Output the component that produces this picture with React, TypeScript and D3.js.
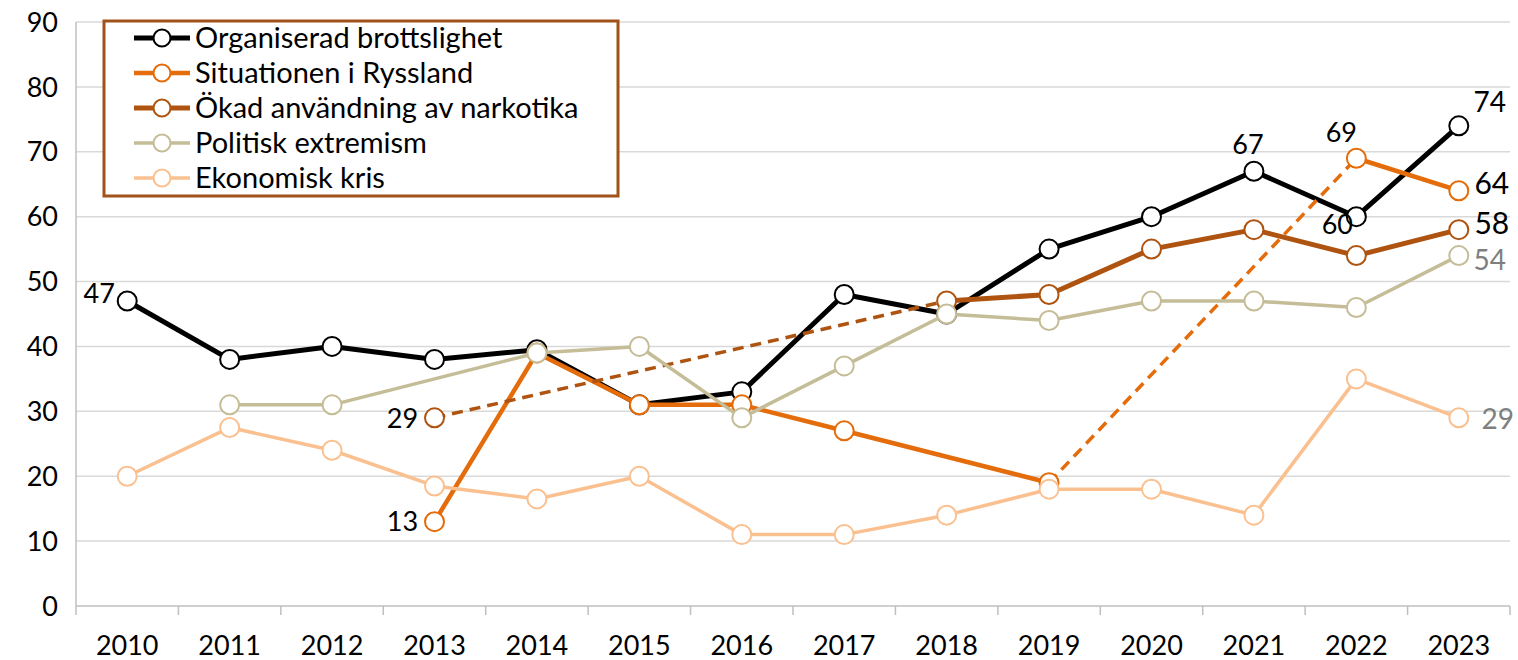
import React from "react";
import * as d3 from "d3";

const years = ["2010","2011","2012","2013","2014","2015","2016","2017","2018","2019","2020","2021","2022","2023"];
const yTicks = [0,10,20,30,40,50,60,70,80,90];

const organiserad = [47,38,40,38,39.5,31,33,48,45,55,60,67,60,74];
const ryssland = [null,null,null,13,39,31,31,27,null,19,null,null,69,64];
const narkotika = [null,null,null,29,null,null,null,null,47,48,55,58,54,58];
const extremism = [null,31,31,null,39,40,29,37,45,44,47,47,46,54];
const ekonomisk = [20,27.5,24,18.5,16.5,20,11,11,14,18,18,14,35,29];

const seriesNames = ["Organiserad brottslighet","Situationen i Ryssland","Ökad användning av narkotika","Politisk extremism","Ekonomisk kris"];
const seriesValues = [organiserad, ryssland, narkotika, extremism, ekonomisk];
// years from which the connecting segment is dashed
const dashedStarts: string[][] = [[], ["2019"], ["2013"], [], []];

const colors = ["#000000","#E46C0A","#AE5410","#C4BD97","#FAC090"];
const widths = [5,4.5,5,3.5,3.5];

// annotation: [seriesIndex, year, position, size, color]
const labels: [number,string,string,number,string][] = [
  [0,"2010","left47",27,"#000"],
  [1,"2013","left",27,"#000"],
  [2,"2013","left",27,"#000"],
  [0,"2021","above",27,"#000"],
  [1,"2022","aboveLeft",27,"#000"],
  [0,"2022","belowLeft",27,"#000"],
  [0,"2023","aboveRight",28,"#000"],
  [1,"2023","right64",30,"#000"],
  [2,"2023","right58",30,"#000"],
  [3,"2023","right54",28,"#7F7F7F"],
  [4,"2023","right29",28,"#7F7F7F"],
];

const W = 1518, H = 660;
const M = { left: 76, right: 8, top: 22, bottom: 54 };
const FONT = "Lato, 'Open Sans', sans-serif";

export default function App() {
  const x = d3.scaleBand().domain(years).range([M.left, W - M.right]);
  const y = d3.scaleLinear().domain([0, 90]).range([H - M.bottom, M.top]);
  const cx = (yr: string) => (x(yr) as number) + x.bandwidth() / 2;
  const line = d3.line<[number, number]>().x(d => d[0]).y(d => d[1]);

  const offsets: Record<string, [number, number]> = {
    left47: [-28, -8],
    left: [-32, 0],
    above: [-6, -27],
    aboveLeft: [-15, -26],
    belowLeft: [-19, 8],
    aboveRight: [31, -24],
    right64: [33, -8],
    right58: [33, -6],
    right54: [31, 4],
    right29: [39, 1],
  };

  const legendRows = seriesNames.map((n, i) => ({ n, i, yy: 38 + i * 35 }));

  return (
    <svg width={W} height={H} style={{ display: "block", position: "absolute", left: 0, top: 0, background: "#fff" }}>
      <rect x={0} y={0} width={W} height={H} fill="#fff" />
      {yTicks.map(t => (
        <g key={t}>
          {t > 0 && <line x1={M.left} x2={W - M.right} y1={y(t)} y2={y(t)} stroke="#D9D9D9" strokeWidth={1.5} />}
          <text x={58} y={y(t)} dy="0.36em" textAnchor="end" fontFamily={FONT} fontSize={27} fill="#000">{t}</text>
        </g>
      ))}
      <line x1={M.left} x2={M.left} y1={M.top} y2={y(0)} stroke="#BFBFBF" strokeWidth={1.5} />
      <line x1={M.left} x2={W - M.right} y1={y(0)} y2={y(0)} stroke="#BFBFBF" strokeWidth={1.5} />
      {years.map(yr => (
        <line key={"t" + yr} x1={x(yr) as number} x2={x(yr) as number} y1={y(0)} y2={y(0) + 9} stroke="#BFBFBF" strokeWidth={1.5} />
      ))}
      <line x1={W - M.right} x2={W - M.right} y1={y(0)} y2={y(0) + 9} stroke="#BFBFBF" strokeWidth={1.5} />
      {years.map(yr => (
        <text key={"l" + yr} x={cx(yr)} y={645} dy="0.36em" textAnchor="middle" fontFamily={FONT} fontSize={27} fill="#000">{yr}</text>
      ))}

      {seriesValues.map((vals, si) => {
        const pts = years.map((yr, i) => ({ yr, v: vals[i] })).filter(p => p.v !== null) as { yr: string; v: number }[];
        const segs = [] as any[];
        for (let k = 0; k < pts.length - 1; k++) {
          const a = pts[k], b = pts[k + 1];
          const dashed = dashedStarts[si].includes(a.yr);
          segs.push(
            <path key={k} d={line([[cx(a.yr), y(a.v)], [cx(b.yr), y(b.v)]]) as string} fill="none"
              stroke={colors[si]} strokeWidth={dashed ? 3.5 : widths[si]} strokeDasharray={dashed ? "11,7" : undefined}
              strokeLinecap={dashed ? "butt" : "round"} />
          );
        }
        return (
          <g key={si}>
            {segs}
            {pts.map(p => (
              <circle key={p.yr} cx={cx(p.yr)} cy={y(p.v)} r={9.5} fill="#fff" stroke={colors[si]} strokeWidth={2} />
            ))}
          </g>
        );
      })}

      {labels.map(([si, yr, pos, size, col], i) => {
        const v = seriesValues[si][years.indexOf(yr)] as number;
        const o = offsets[pos];
        return (
          <text key={"a" + i} x={cx(yr) + o[0]} y={y(v) + o[1]} dy="0.36em" textAnchor="middle"
            fontFamily={FONT} fontSize={size} fill={col}>{Math.round(v)}</text>
        );
      })}

      <rect x={104} y={21} width={514} height={175} fill="#fff" stroke="#A0521A" strokeWidth={3} />
      {legendRows.map(r => (
        <g key={"lg" + r.i}>
          <line x1={134} x2={190} y1={r.yy} y2={r.yy} stroke={colors[r.i]} strokeWidth={widths[r.i]} />
          <circle cx={162} cy={r.yy} r={8.5} fill="#fff" stroke={colors[r.i]} strokeWidth={2} />
          <text x={195} y={r.yy} dy="0.36em" fontFamily={FONT} fontSize={29} fill="#000">{r.n}</text>
        </g>
      ))}
    </svg>
  );
}
